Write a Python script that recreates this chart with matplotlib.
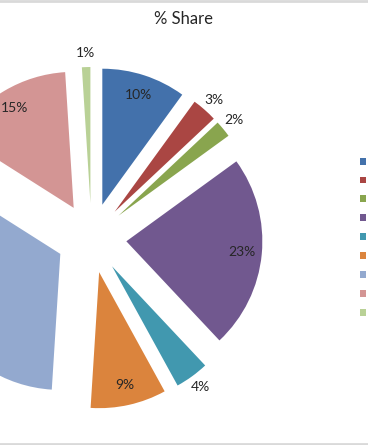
import math
import matplotlib
matplotlib.use("Agg")
import matplotlib.pyplot as plt
from matplotlib.lines import Line2D

W, H = 368, 445          # output size in pixels (dpi 100)
CX, CY = 91.5, 238       # pie centre, pixels from the top-left corner
R = 136                  # pie radius in pixels
EXPLODE = 35             # every slice pulled out by the same distance

# data, clockwise from 12 o'clock
shares = [10, 3, 2, 23, 4, 9, 33, 15, 1]
colors = ["#4371AB", "#AA4643", "#89A54E", "#71588F", "#4198AF",
          "#DB843D", "#93A9CF", "#D39594", "#B9D196"]
title = "% Share"

FONT = ["Lato", "DejaVu Sans"]

fig = plt.figure(figsize=(W / 100, H / 100), dpi=100)
ax = fig.add_axes([0, 0, 1, 1])

wedges, texts, autotexts = ax.pie(
    shares, colors=colors, startangle=90, counterclock=False,
    radius=R, explode=[EXPLODE] * len(shares),
    autopct=lambda p: f"{p:.0f}%", pctdistance=0.85,
    wedgeprops=dict(linewidth=0),
    textprops=dict(fontsize=10, color="#262626", family=FONT))

# small slices get their label outside, like Excel's best fit
for w, t, v in zip(wedges, autotexts, shares):
    mid = math.radians((w.theta1 + w.theta2) / 2)
    f = 1.1 if v < 5 else 0.85
    t.set_position((w.center[0] + f * R * math.cos(mid),
                    w.center[1] + f * R * math.sin(mid)))

# map one data unit to one pixel, pie cut off on the left like the source
ax.set_xlim(-CX, W - CX)
ax.set_ylim(-(H - CY), CY)
ax.set_aspect("equal", adjustable="box")
ax.axis("off")

fig.text(184 / W, 1 - 19 / H, title, ha="center", va="center",
         fontsize=12, color="#262626", family=FONT)

# legend markers only, the names sit outside the crop
ax.legend(wedges, [""] * len(wedges), loc="upper left",
          bbox_to_anchor=(360 / W, 1 - 157 / H), bbox_transform=fig.transFigure,
          frameon=False, borderpad=0, borderaxespad=0, fontsize=8,
          handlelength=0.58, handleheight=0.58, handletextpad=0.3,
          labelspacing=0.80)

# thin grey chart border at top and bottom
for yp in (1, H - 1.5):
    fig.add_artist(Line2D([0, 1], [1 - yp / H] * 2, color="#D9D9D9", lw=2,
                          transform=fig.transFigure))

fig.savefig("out.png", dpi=100, facecolor="white")
